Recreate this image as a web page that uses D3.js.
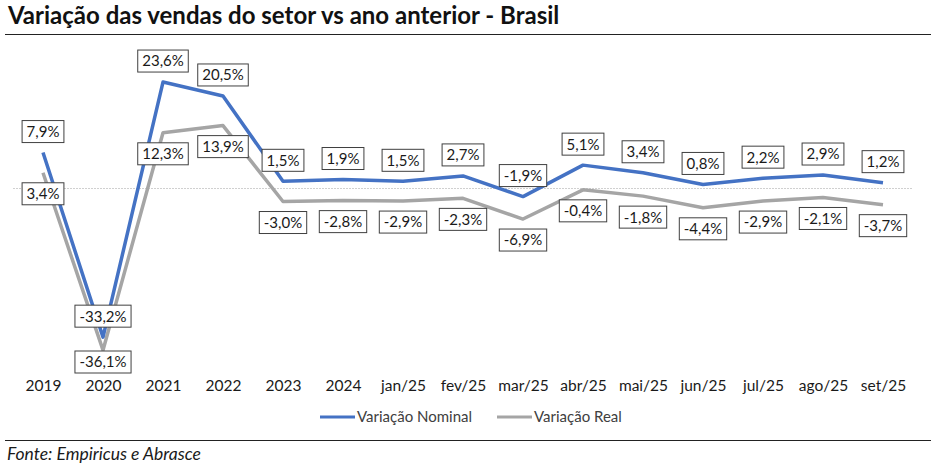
<!DOCTYPE html>
<html>
<head>
    <meta charset="UTF-8" />
    <title>Variação das vendas</title>
    <script src="https://d3js.org/d3.v7.min.js"></script>
    <style>
    body { margin: 0; background: #fff; }
    text { font-family: Lato, "Open Sans", sans-serif; }
    </style>
</head>
<body>
<script type="text/javascript">

// data
var periods = ["2019", "2020", "2021", "2022", "2023", "2024", "jan/25", "fev/25", "mar/25", "abr/25", "mai/25", "jun/25", "jul/25", "ago/25", "set/25"]
var nominal = [7.9, -33.2, 23.6, 20.5, 1.5, 1.9, 1.5, 2.7, -1.9, 5.1, 3.4, 0.8, 2.2, 2.9, 1.2]
var real = [3.4, -36.1, 12.3, 13.9, -3.0, -2.8, -2.9, -2.3, -6.9, -0.4, -1.8, -4.4, -2.9, -2.1, -3.7]
var seriesNames = ["Variação Nominal", "Variação Real"]

var width = 937
var height = 466

var svg = d3.select("body").append("svg")
    .attr("width", width)
    .attr("height", height)

// title + rule
svg.append("text")
    .attr("x", 8).attr("y", 24)
    .style("font-size", "24px").style("font-weight", "bold").attr("fill", "#111")
    .text("Variação das vendas do setor vs ano anterior - Brasil")
svg.append("line")
    .attr("x1", 5).attr("x2", 931).attr("y1", 34.5).attr("y2", 34.5)
    .attr("stroke", "#222").attr("stroke-width", 1)

var x = d3.scalePoint()
    .domain(periods)
    .range([13, 913])
    .padding(0.5)

var y = d3.scaleLinear()
    .domain([-40, 30])
    .range([367.7, 53.3])

var fmt = function(v) { return d3.format(".1f")(v).replace(".", ",").replace("\u2212", "-") + "%" }

// zero line
svg.append("line")
    .attr("x1", 13).attr("x2", 913)
    .attr("y1", Math.round(y(0)) + 0.5).attr("y2", Math.round(y(0)) + 0.5)
    .attr("stroke", "#d0d0d0").attr("stroke-width", 1).attr("stroke-dasharray", "2,1")

// x axis labels
var xAxis = svg.append("g")
    .attr("transform", "translate(0,380)")
    .call(d3.axisBottom(x).tickSize(0).tickPadding(0))
xAxis.select(".domain").remove()
xAxis.selectAll("text")
    .style("font-size", "15.5px").attr("fill", "#1a1a1a")
    .attr("font-family", "Lato, sans-serif")

var line = d3.line()
    .x(function(d, i) { return x(periods[i]) })
    .y(function(d) { return y(d) })

var series = [
    { name: seriesNames[0], values: nominal, color: "#4472C4", dir: -1 },
    { name: seriesNames[1], values: real, color: "#A5A5A5", dir: 1 }
]

// real first so nominal sits on top
series.slice().reverse().forEach(function(s) {
    svg.append("path")
        .datum(s.values)
        .attr("fill", "none")
        .attr("stroke", s.color)
        .attr("stroke-width", 3.5)
        .attr("stroke-linejoin", "round")
        .attr("d", line)
})

// data labels
series.forEach(function(s) {
    var g = svg.append("g")
    s.values.forEach(function(v, i) {
        var cx = x(periods[i])
        var cy = y(v) + s.dir * 21
        if (cy > 362) cy = 362
        var lg = g.append("g").attr("transform", "translate(" + cx + "," + cy + ")")
        var rect = lg.append("rect")
        var t = lg.append("text")
            .attr("text-anchor", "middle")
            .attr("dy", "0.36em")
            .style("font-size", "15px")
            .attr("fill", "#1a1a1a")
            .text(fmt(v))
        var w = t.node().getComputedTextLength() + 9
        rect.attr("x", -w / 2).attr("y", -11).attr("width", w).attr("height", 22)
            .attr("fill", "#fff").attr("stroke", "#404040").attr("stroke-width", 1)
    })
})

// legend
var legendX = [320, 497]
series.forEach(function(s, i) {
    var lg = svg.append("g").attr("transform", "translate(" + legendX[i] + ",417)")
    lg.append("line").attr("x1", 0).attr("x2", 35).attr("y1", 0).attr("y2", 0)
        .attr("stroke", s.color).attr("stroke-width", 3)
    lg.append("text").attr("x", 37).attr("dy", "0.35em")
        .style("font-size", "15px").attr("fill", "#404040")
        .text(s.name)
})

// footer
svg.append("line")
    .attr("x1", 5).attr("x2", 931).attr("y1", 440.5).attr("y2", 440.5)
    .attr("stroke", "#222").attr("stroke-width", 1)
svg.append("text")
    .attr("x", 7).attr("y", 460)
    .style("font-size", "17.5px").style("font-style", "italic").attr("fill", "#1a1a1a")
    .text("Fonte: Empiricus e Abrasce")

</script>
</body>
</html>
